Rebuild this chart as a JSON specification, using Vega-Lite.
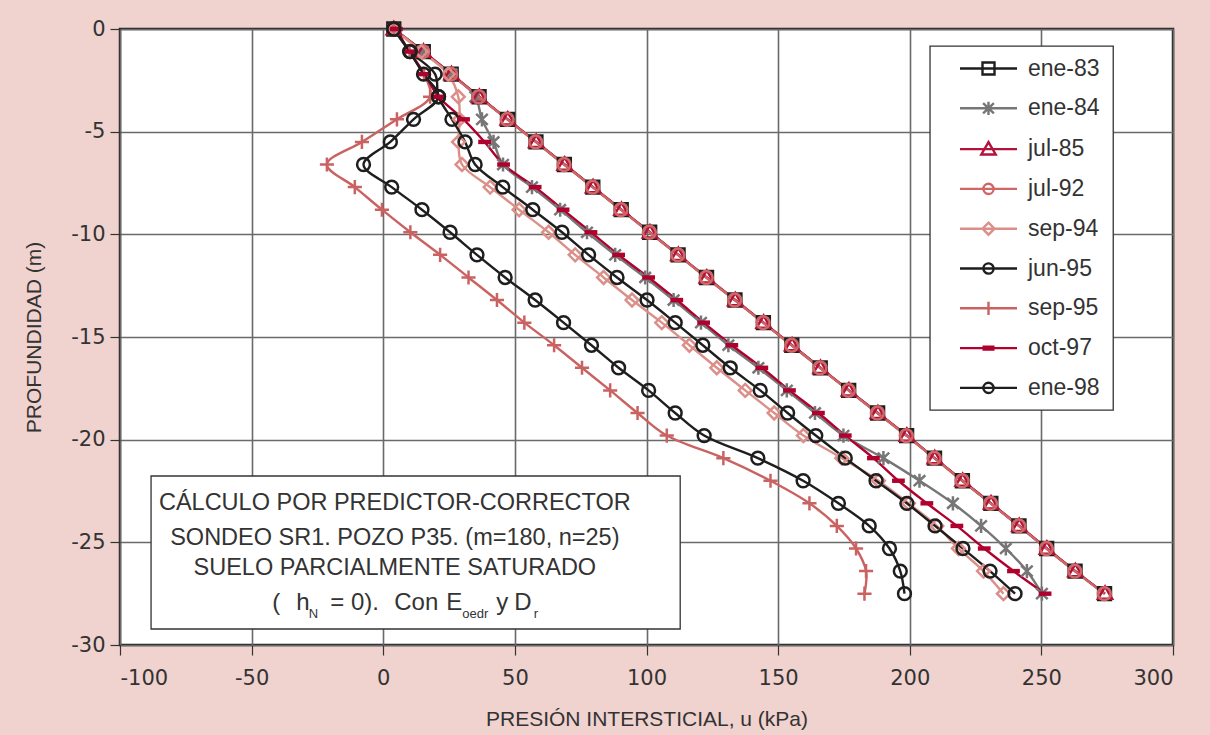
{
  "$schema": "https://vega.github.io/schema/vega-lite/v6.json",
  "width": 1053,
  "height": 616,
  "autosize": {"type": "none"},
  "padding": {"left": 120, "top": 29, "right": 37, "bottom": 90},
  "background": "#f0d2ce",
  "config": {
    "view": {"fill": "white", "stroke": "#222222", "strokeWidth": 2.5},
    "axis": {
      "grid": true, "gridColor": "#6a6a6a", "gridWidth": 1.6,
      "domain": false, "ticks": true, "tickSize": 10, "tickColor": "#333333", "tickWidth": 1.2,
      "labelFont": "DejaVu Sans", "labelFontSize": 21, "labelColor": "#333333",
      "titleFont": "Liberation Sans", "titleFontSize": 21, "titleFontWeight": "normal", "titleColor": "#333333"
    }
  },
  "datasets": {
    "series": [
      {"s":"ene-83","d":0,"u":4},{"s":"ene-83","d":-1.1,"u":15.2},{"s":"ene-83","d":-2.2,"u":25.8},{"s":"ene-83","d":-3.3,"u":36.4},{"s":"ene-83","d":-4.4,"u":47.2},{"s":"ene-83","d":-5.5,"u":58},{"s":"ene-83","d":-6.6,"u":68.8},{"s":"ene-83","d":-7.7,"u":79.6},{"s":"ene-83","d":-8.8,"u":90.4},{"s":"ene-83","d":-9.9,"u":101.2},{"s":"ene-83","d":-11,"u":112},{"s":"ene-83","d":-12.1,"u":122.8},{"s":"ene-83","d":-13.2,"u":133.6},{"s":"ene-83","d":-14.3,"u":144.4},{"s":"ene-83","d":-15.4,"u":155.2},{"s":"ene-83","d":-16.5,"u":166},{"s":"ene-83","d":-17.6,"u":176.8},{"s":"ene-83","d":-18.7,"u":187.8},{"s":"ene-83","d":-19.8,"u":198.8},{"s":"ene-83","d":-20.9,"u":209.4},{"s":"ene-83","d":-22,"u":220},{"s":"ene-83","d":-23.1,"u":230.8},{"s":"ene-83","d":-24.2,"u":241.5},{"s":"ene-83","d":-25.3,"u":252},{"s":"ene-83","d":-26.4,"u":262.8},{"s":"ene-83","d":-27.5,"u":274},
      {"s":"ene-84","d":0,"u":4},{"s":"ene-84","d":-1.1,"u":15},{"s":"ene-84","d":-2.2,"u":26},{"s":"ene-84","d":-3.3,"u":35},{"s":"ene-84","d":-4.4,"u":37.5},{"s":"ene-84","d":-5.5,"u":41.9},{"s":"ene-84","d":-6.6,"u":45.5},{"s":"ene-84","d":-7.7,"u":56.5},{"s":"ene-84","d":-8.8,"u":67.2},{"s":"ene-84","d":-9.9,"u":77.4},{"s":"ene-84","d":-11,"u":88.1},{"s":"ene-84","d":-12.1,"u":99.5},{"s":"ene-84","d":-13.2,"u":110.3},{"s":"ene-84","d":-14.3,"u":120.7},{"s":"ene-84","d":-15.4,"u":131.1},{"s":"ene-84","d":-16.5,"u":142.5},{"s":"ene-84","d":-17.6,"u":153.3},{"s":"ene-84","d":-18.7,"u":164},{"s":"ene-84","d":-19.8,"u":174.8},{"s":"ene-84","d":-20.9,"u":190},{"s":"ene-84","d":-22,"u":203.7},{"s":"ene-84","d":-23.1,"u":216.4},{"s":"ene-84","d":-24.2,"u":227.1},{"s":"ene-84","d":-25.3,"u":236.5},{"s":"ene-84","d":-26.4,"u":244.5},{"s":"ene-84","d":-27.5,"u":250.2},
      {"s":"jul-85","d":0,"u":4},{"s":"jul-85","d":-1.1,"u":15.3},{"s":"jul-85","d":-2.2,"u":25.9},{"s":"jul-85","d":-3.3,"u":36.5},{"s":"jul-85","d":-4.4,"u":47.3},{"s":"jul-85","d":-5.5,"u":58.1},{"s":"jul-85","d":-6.6,"u":68.9},{"s":"jul-85","d":-7.7,"u":79.7},{"s":"jul-85","d":-8.8,"u":90.5},{"s":"jul-85","d":-9.9,"u":101.3},{"s":"jul-85","d":-11,"u":112.1},{"s":"jul-85","d":-12.1,"u":122.9},{"s":"jul-85","d":-13.2,"u":133.7},{"s":"jul-85","d":-14.3,"u":144.5},{"s":"jul-85","d":-15.4,"u":155.3},{"s":"jul-85","d":-16.5,"u":166.1},{"s":"jul-85","d":-17.6,"u":176.9},{"s":"jul-85","d":-18.7,"u":187.9},{"s":"jul-85","d":-19.8,"u":198.9},{"s":"jul-85","d":-20.9,"u":209.5},{"s":"jul-85","d":-22,"u":220.1},{"s":"jul-85","d":-23.1,"u":230.9},{"s":"jul-85","d":-24.2,"u":241.6},{"s":"jul-85","d":-25.3,"u":252.1},{"s":"jul-85","d":-26.4,"u":262.9},{"s":"jul-85","d":-27.5,"u":274.2},
      {"s":"jul-92","d":0,"u":4},{"s":"jul-92","d":-1.1,"u":15},{"s":"jul-92","d":-2.2,"u":25.6},{"s":"jul-92","d":-3.3,"u":36.3},{"s":"jul-92","d":-4.4,"u":47.1},{"s":"jul-92","d":-5.5,"u":57.9},{"s":"jul-92","d":-6.6,"u":68.7},{"s":"jul-92","d":-7.7,"u":79.5},{"s":"jul-92","d":-8.8,"u":90.3},{"s":"jul-92","d":-9.9,"u":101.1},{"s":"jul-92","d":-11,"u":111.9},{"s":"jul-92","d":-12.1,"u":122.7},{"s":"jul-92","d":-13.2,"u":133.5},{"s":"jul-92","d":-14.3,"u":144.3},{"s":"jul-92","d":-15.4,"u":155.1},{"s":"jul-92","d":-16.5,"u":165.9},{"s":"jul-92","d":-17.6,"u":176.7},{"s":"jul-92","d":-18.7,"u":187.7},{"s":"jul-92","d":-19.8,"u":198.7},{"s":"jul-92","d":-20.9,"u":209.3},{"s":"jul-92","d":-22,"u":219.9},{"s":"jul-92","d":-23.1,"u":230.7},{"s":"jul-92","d":-24.2,"u":241.4},{"s":"jul-92","d":-25.3,"u":251.9},{"s":"jul-92","d":-26.4,"u":262.7},{"s":"jul-92","d":-27.5,"u":273.9},
      {"s":"sep-94","d":0,"u":4},{"s":"sep-94","d":-1.1,"u":14.5},{"s":"sep-94","d":-2.2,"u":24.7},{"s":"sep-94","d":-3.3,"u":28.5},{"s":"sep-94","d":-4.4,"u":29},{"s":"sep-94","d":-5.5,"u":28.6},{"s":"sep-94","d":-6.6,"u":29.9},{"s":"sep-94","d":-7.7,"u":40.6},{"s":"sep-94","d":-8.8,"u":51.6},{"s":"sep-94","d":-9.9,"u":62.8},{"s":"sep-94","d":-11,"u":72.9},{"s":"sep-94","d":-12.1,"u":83.7},{"s":"sep-94","d":-13.2,"u":94.5},{"s":"sep-94","d":-14.3,"u":105.8},{"s":"sep-94","d":-15.4,"u":116.3},{"s":"sep-94","d":-16.5,"u":126.7},{"s":"sep-94","d":-17.6,"u":137.5},{"s":"sep-94","d":-18.7,"u":148.5},{"s":"sep-94","d":-19.8,"u":159.6},{"s":"sep-94","d":-20.9,"u":174.2},{"s":"sep-94","d":-22,"u":188.1},{"s":"sep-94","d":-23.1,"u":199.5},{"s":"sep-94","d":-24.2,"u":210.3},{"s":"sep-94","d":-25.3,"u":218.5},{"s":"sep-94","d":-26.4,"u":228},{"s":"sep-94","d":-27.5,"u":235.6},
      {"s":"jun-95","d":0,"u":4},{"s":"jun-95","d":-1.1,"u":10.3},{"s":"jun-95","d":-2.2,"u":19.7},{"s":"jun-95","d":-3.3,"u":21},{"s":"jun-95","d":-4.4,"u":26.1},{"s":"jun-95","d":-5.5,"u":31.1},{"s":"jun-95","d":-6.6,"u":34.9},{"s":"jun-95","d":-7.7,"u":45.4},{"s":"jun-95","d":-8.8,"u":56.8},{"s":"jun-95","d":-9.9,"u":67.9},{"s":"jun-95","d":-11,"u":78},{"s":"jun-95","d":-12.1,"u":88.8},{"s":"jun-95","d":-13.2,"u":100.2},{"s":"jun-95","d":-14.3,"u":110.9},{"s":"jun-95","d":-15.4,"u":121.4},{"s":"jun-95","d":-16.5,"u":131.8},{"s":"jun-95","d":-17.6,"u":143.2},{"s":"jun-95","d":-18.7,"u":153.6},{"s":"jun-95","d":-19.8,"u":164.3},{"s":"jun-95","d":-20.9,"u":175.5},{"s":"jun-95","d":-22,"u":187.2},{"s":"jun-95","d":-23.1,"u":198.9},{"s":"jun-95","d":-24.2,"u":209.6},{"s":"jun-95","d":-25.3,"u":220.2},{"s":"jun-95","d":-26.4,"u":230.5},{"s":"jun-95","d":-27.5,"u":240},
      {"s":"sep-95","d":0,"u":4},{"s":"sep-95","d":-1.1,"u":10},{"s":"sep-95","d":-2.2,"u":15.5},{"s":"sep-95","d":-3.3,"u":17.8},{"s":"sep-95","d":-4.4,"u":5.2},{"s":"sep-95","d":-5.5,"u":-8.1},{"s":"sep-95","d":-6.6,"u":-21.4},{"s":"sep-95","d":-7.7,"u":-10.8},{"s":"sep-95","d":-8.8,"u":-0.5},{"s":"sep-95","d":-9.9,"u":10.3},{"s":"sep-95","d":-11,"u":21.6},{"s":"sep-95","d":-12.1,"u":32.4},{"s":"sep-95","d":-13.2,"u":43.2},{"s":"sep-95","d":-14.3,"u":53.6},{"s":"sep-95","d":-15.4,"u":64.9},{"s":"sep-95","d":-16.5,"u":75.5},{"s":"sep-95","d":-17.6,"u":86.2},{"s":"sep-95","d":-18.7,"u":96.6},{"s":"sep-95","d":-19.8,"u":107.7},{"s":"sep-95","d":-20.9,"u":129.2},{"s":"sep-95","d":-22,"u":147.1},{"s":"sep-95","d":-23.1,"u":161.9},{"s":"sep-95","d":-24.2,"u":172.3},{"s":"sep-95","d":-25.3,"u":179.6},{"s":"sep-95","d":-26.4,"u":183.4},{"s":"sep-95","d":-27.5,"u":182.8},
      {"s":"oct-97","d":0,"u":5},{"s":"oct-97","d":-1.1,"u":9.9},{"s":"oct-97","d":-2.2,"u":15.7},{"s":"oct-97","d":-3.3,"u":21},{"s":"oct-97","d":-4.4,"u":30.5},{"s":"oct-97","d":-5.5,"u":38.5},{"s":"oct-97","d":-6.6,"u":45.7},{"s":"oct-97","d":-7.7,"u":57.7},{"s":"oct-97","d":-8.8,"u":68.3},{"s":"oct-97","d":-9.9,"u":78.9},{"s":"oct-97","d":-11,"u":89.4},{"s":"oct-97","d":-12.1,"u":100.8},{"s":"oct-97","d":-13.2,"u":111.5},{"s":"oct-97","d":-14.3,"u":121.7},{"s":"oct-97","d":-15.4,"u":132.4},{"s":"oct-97","d":-16.5,"u":143.8},{"s":"oct-97","d":-17.6,"u":154.3},{"s":"oct-97","d":-18.7,"u":165.3},{"s":"oct-97","d":-19.8,"u":175.5},{"s":"oct-97","d":-20.9,"u":186.2},{"s":"oct-97","d":-22,"u":195.7},{"s":"oct-97","d":-23.1,"u":206.5},{"s":"oct-97","d":-24.2,"u":217.9},{"s":"oct-97","d":-25.3,"u":228.3},{"s":"oct-97","d":-26.4,"u":239.4},{"s":"oct-97","d":-27.5,"u":251.4},
      {"s":"ene-98","d":0,"u":4},{"s":"ene-98","d":-1.1,"u":10},{"s":"ene-98","d":-2.2,"u":15.3},{"s":"ene-98","d":-3.3,"u":21},{"s":"ene-98","d":-4.4,"u":11.5},{"s":"ene-98","d":-5.5,"u":2.7},{"s":"ene-98","d":-6.6,"u":-7.5},{"s":"ene-98","d":-7.7,"u":3.2},{"s":"ene-98","d":-8.8,"u":14.7},{"s":"ene-98","d":-9.9,"u":25.4},{"s":"ene-98","d":-11,"u":35.6},{"s":"ene-98","d":-12.1,"u":46.3},{"s":"ene-98","d":-13.2,"u":57.7},{"s":"ene-98","d":-14.3,"u":68.5},{"s":"ene-98","d":-15.4,"u":79.1},{"s":"ene-98","d":-16.5,"u":89.4},{"s":"ene-98","d":-17.6,"u":100.8},{"s":"ene-98","d":-18.7,"u":110.9},{"s":"ene-98","d":-19.8,"u":121.9},{"s":"ene-98","d":-20.9,"u":142.3},{"s":"ene-98","d":-22,"u":159.5},{"s":"ene-98","d":-23.1,"u":172.9},{"s":"ene-98","d":-24.2,"u":184.6},{"s":"ene-98","d":-25.3,"u":192.3},{"s":"ene-98","d":-26.4,"u":196.4},{"s":"ene-98","d":-27.5,"u":198}
    ],
    "boxes": [
      {"x1": -88.2, "x2": 112.8, "y1": -21.77, "y2": -29.22},
      {"x1": 207.7, "x2": 277.3, "y1": -0.83, "y2": -18.56}
    ],
    "notes": [
      {"t":"CÁLCULO POR PREDICTOR-CORRECTOR","x":4.4,"y":-23.42,"k":"c"},
      {"t":"SONDEO SR1. POZO P35. (m=180, n=25)","x":4.4,"y":-25.13,"k":"c"},
      {"t":"SUELO PARCIALMENTE SATURADO","x":4.4,"y":-26.59,"k":"c"},
      {"t":"(","x":-42.16,"y":-28.3,"k":"p"},
      {"t":"h","x":-33.04,"y":-28.3,"k":"p"},
      {"t":"N","x":-28.26,"y":-28.7,"k":"s"},
      {"t":"= 0).","x":-20.13,"y":-28.3,"k":"p"},
      {"t":"Con","x":4.18,"y":-28.3,"k":"p"},
      {"t":"E","x":23.93,"y":-28.3,"k":"p"},
      {"t":"oedr","x":30.0,"y":-28.7,"k":"s"},
      {"t":"y","x":42.92,"y":-28.3,"k":"p"},
      {"t":"D","x":49.75,"y":-28.3,"k":"p"},
      {"t":"r","x":57.2,"y":-28.7,"k":"s"}
    ]
  },
  "layer": [
    {
      "data": {"name": "boxes"},
      "mark": {"type": "rect", "fill": "white", "stroke": "#333333", "strokeWidth": 1.3},
      "encoding": {
        "x": {"field": "x1", "type": "quantitative", "scale": {"domain": [-100, 300], "nice": false, "zero": false},
              "axis": {"values": [-100, -50, 0, 50, 100, 150, 200, 250, 300], "labelExpr": "'' + datum.value", "title": "PRESIÓN INTERSTICIAL, u (kPa)", "labelPadding": 12, "titlePadding": 20, "titleFontWeight": "normal"}},
        "x2": {"field": "x2"},
        "y": {"field": "y1", "type": "quantitative", "scale": {"domain": [-30, 0], "nice": false, "zero": false},
              "axis": {"values": [-30, -25, -20, -15, -10, -5, 0], "labelExpr": "'' + datum.value", "title": "PROFUNDIDAD (m)", "labelPadding": 5, "titlePadding": 26, "titleFontWeight": "normal"}},
        "y2": {"field": "y2"}
      }
    },
    {
      "data": {"name": "series"},
      "mark": {"type": "line", "strokeWidth": 2.4, "interpolate": "catmull-rom"},
      "encoding": {
        "x": {"field": "u", "type": "quantitative", "scale": {"domain": [-100, 300], "nice": false, "zero": false},
              "axis": {"values": [-100, -50, 0, 50, 100, 150, 200, 250, 300], "labelExpr": "'' + datum.value", "title": "PRESIÓN INTERSTICIAL, u (kPa)", "labelPadding": 12, "titlePadding": 20, "titleFontWeight": "normal"}},
        "y": {"field": "d", "type": "quantitative", "scale": {"domain": [-30, 0], "nice": false, "zero": false},
              "axis": {"values": [-30, -25, -20, -15, -10, -5, 0], "labelExpr": "'' + datum.value", "title": "PROFUNDIDAD (m)", "labelPadding": 5, "titlePadding": 26, "titleFontWeight": "normal"}},
        "order": {"field": "d", "sort": "descending"},
        "color": {"field": "s", "type": "nominal", "legend": null,
          "scale": {"domain": ["ene-83","ene-84","jul-85","jul-92","sep-94","jun-95","sep-95","oct-97","ene-98"],
                    "range": ["#1e1e1e","#767676","#b3123a","#cf6767","#dc8f89","#1e1e1e","#cb6262","#b0002e","#1e1e1e"]}}
      }
    },
    {
      "data": {"name": "series"},
      "mark": {"type": "point", "filled": false, "size": 165, "strokeWidth": 2.5, "opacity": 1},
      "encoding": {
        "x": {"field": "u", "type": "quantitative", "scale": {"domain": [-100, 300], "nice": false, "zero": false},
              "axis": {"values": [-100, -50, 0, 50, 100, 150, 200, 250, 300], "labelExpr": "'' + datum.value", "title": "PRESIÓN INTERSTICIAL, u (kPa)", "labelPadding": 12, "titlePadding": 20, "titleFontWeight": "normal"}},
        "y": {"field": "d", "type": "quantitative", "scale": {"domain": [-30, 0], "nice": false, "zero": false},
              "axis": {"values": [-30, -25, -20, -15, -10, -5, 0], "labelExpr": "'' + datum.value", "title": "PROFUNDIDAD (m)", "labelPadding": 5, "titlePadding": 26, "titleFontWeight": "normal"}},
        "color": {"field": "s", "type": "nominal", "legend": null,
          "scale": {"domain": ["ene-83","ene-84","jul-85","jul-92","sep-94","jun-95","sep-95","oct-97","ene-98"],
                    "range": ["#1e1e1e","#767676","#b3123a","#cf6767","#dc8f89","#1e1e1e","#cb6262","#b0002e","#1e1e1e"]}},
        "shape": {"field": "s", "type": "nominal", "legend": null,
          "scale": {"domain": ["ene-83","ene-84","jul-85","jul-92","sep-94","jun-95","sep-95","oct-97","ene-98"],
                    "range": ["square","M0,-1.1V1.1M-0.9,-0.85L0.9,0.85M-0.9,0.85L0.9,-0.85","M0,-1.1L1.1,0.8H-1.1Z","circle","diamond","circle","M-1.1,0H1.1M0,-1.1V1.1","M-0.8,-0.15H0.8V0.15H-0.8Z","circle"]}}
      }
    },
    {
      "data": {"name": "series"},
      "transform": [{"filter": "false"}],
      "mark": {"type": "point", "filled": false, "size": 144, "strokeWidth": 2.4, "opacity": 1},
      "encoding": {
        "x": {"field": "u", "type": "quantitative", "scale": {"domain": [-100, 300], "nice": false, "zero": false},
              "axis": {"values": [-100, -50, 0, 50, 100, 150, 200, 250, 300], "labelExpr": "'' + datum.value", "title": "PRESIÓN INTERSTICIAL, u (kPa)", "labelPadding": 12, "titlePadding": 20, "titleFontWeight": "normal"}},
        "y": {"field": "d", "type": "quantitative", "scale": {"domain": [-30, 0], "nice": false, "zero": false},
              "axis": {"values": [-30, -25, -20, -15, -10, -5, 0], "labelExpr": "'' + datum.value", "title": "PROFUNDIDAD (m)", "labelPadding": 5, "titlePadding": 26, "titleFontWeight": "normal"}},
        "color": {"field": "s", "type": "nominal",
          "scale": {"domain": ["ene-83","ene-84","jul-85","jul-92","sep-94","jun-95","sep-95","oct-97","ene-98"],
                    "range": ["#1e1e1e","#767676","#b3123a","#cf6767","#dc8f89","#1e1e1e","#cb6262","#b0002e","#1e1e1e"]},
          "legend": {"title": null, "orient": "none", "legendX": 834.5, "legendY": 28, "padding": 0,
                     "rowPadding": 15.8, "labelOffset": 50.5, "labelFont": "Liberation Sans", "labelFontSize": 23,
                     "labelColor": "#333333", "symbolStrokeWidth": 2.4, "symbolSize": 144, "symbolFillColor": "transparent"}},
        "shape": {"field": "s", "type": "nominal",
          "scale": {"domain": ["ene-83","ene-84","jul-85","jul-92","sep-94","jun-95","sep-95","oct-97","ene-98"],
                    "range": [
                      "M-1,0H8.5M2.75,-1H4.75V1H2.75Z",
                      "M-1,0H8.5M3.75,-1.1V1.1M2.85,-0.85L4.65,0.85M2.85,0.85L4.65,-0.85",
                      "M-1,0H8.5M3.75,-1.15L4.95,0.9H2.55Z",
                      "M-1,0H8.5M4.6,0A0.85,0.85 0 1 0 2.9,0A0.85,0.85 0 1 0 4.6,0",
                      "M-1,0H8.5M3.75,-1L4.75,0L3.75,1L2.75,0Z",
                      "M-1,0H8.5M4.6,0A0.85,0.85 0 1 0 2.9,0A0.85,0.85 0 1 0 4.6,0",
                      "M-1,0H8.5M3.75,-1.1V1.1",
                      "M-1,0H8.5M2.95,-0.25H4.55V0.25H2.95Z",
                      "M-1,0H8.5M4.6,0A0.85,0.85 0 1 0 2.9,0A0.85,0.85 0 1 0 4.6,0"
                    ]},
          "legend": {"title": null, "orient": "none", "legendX": 834.5, "legendY": 28, "padding": 0,
                     "rowPadding": 15.8, "labelOffset": 50.5, "labelFont": "Liberation Sans", "labelFontSize": 23,
                     "labelColor": "#333333", "symbolStrokeWidth": 2.4, "symbolSize": 144, "symbolFillColor": "transparent"}}
      }
    },
    {
      "data": {"name": "notes"},
      "transform": [{"filter": "datum.k == 'c'"}],
      "mark": {"type": "text", "align": "center", "baseline": "alphabetic", "font": "Liberation Sans", "fontSize": 23.5, "color": "#333333"},
      "encoding": {
        "x": {"field": "x", "type": "quantitative", "scale": {"domain": [-100, 300], "nice": false, "zero": false},
              "axis": {"values": [-100, -50, 0, 50, 100, 150, 200, 250, 300], "labelExpr": "'' + datum.value", "title": "PRESIÓN INTERSTICIAL, u (kPa)", "labelPadding": 12, "titlePadding": 20, "titleFontWeight": "normal"}},
        "y": {"field": "y", "type": "quantitative", "scale": {"domain": [-30, 0], "nice": false, "zero": false},
              "axis": {"values": [-30, -25, -20, -15, -10, -5, 0], "labelExpr": "'' + datum.value", "title": "PROFUNDIDAD (m)", "labelPadding": 5, "titlePadding": 26, "titleFontWeight": "normal"}},
        "text": {"field": "t"}
      }
    },
    {
      "data": {"name": "notes"},
      "transform": [{"filter": "datum.k == 'p'"}],
      "mark": {"type": "text", "align": "left", "baseline": "alphabetic", "font": "Liberation Sans", "fontSize": 24, "color": "#333333"},
      "encoding": {
        "x": {"field": "x", "type": "quantitative", "scale": {"domain": [-100, 300], "nice": false, "zero": false},
              "axis": {"values": [-100, -50, 0, 50, 100, 150, 200, 250, 300], "labelExpr": "'' + datum.value", "title": "PRESIÓN INTERSTICIAL, u (kPa)", "labelPadding": 12, "titlePadding": 20, "titleFontWeight": "normal"}},
        "y": {"field": "y", "type": "quantitative", "scale": {"domain": [-30, 0], "nice": false, "zero": false},
              "axis": {"values": [-30, -25, -20, -15, -10, -5, 0], "labelExpr": "'' + datum.value", "title": "PROFUNDIDAD (m)", "labelPadding": 5, "titlePadding": 26, "titleFontWeight": "normal"}},
        "text": {"field": "t"}
      }
    },
    {
      "data": {"name": "notes"},
      "transform": [{"filter": "datum.k == 's'"}],
      "mark": {"type": "text", "align": "left", "baseline": "alphabetic", "font": "Liberation Sans", "fontSize": 13, "color": "#333333"},
      "encoding": {
        "x": {"field": "x", "type": "quantitative", "scale": {"domain": [-100, 300], "nice": false, "zero": false},
              "axis": {"values": [-100, -50, 0, 50, 100, 150, 200, 250, 300], "labelExpr": "'' + datum.value", "title": "PRESIÓN INTERSTICIAL, u (kPa)", "labelPadding": 12, "titlePadding": 20, "titleFontWeight": "normal"}},
        "y": {"field": "y", "type": "quantitative", "scale": {"domain": [-30, 0], "nice": false, "zero": false},
              "axis": {"values": [-30, -25, -20, -15, -10, -5, 0], "labelExpr": "'' + datum.value", "title": "PROFUNDIDAD (m)", "labelPadding": 5, "titlePadding": 26, "titleFontWeight": "normal"}},
        "text": {"field": "t"}
      }
    }
  ],
  "resolve": {"scale": {"color": "independent", "shape": "independent"}}
}
